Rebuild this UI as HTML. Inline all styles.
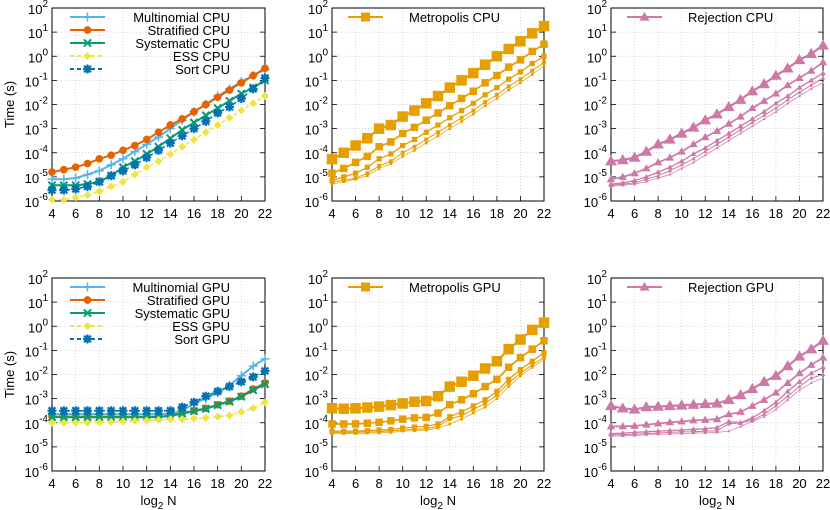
<!DOCTYPE html>
<html><head><meta charset="utf-8"><style>
body{margin:0;background:#fff}
svg{display:block;font-family:"Liberation Sans",sans-serif}
</style></head><body>
<svg id="c" width="830" height="510"></svg>
<script>
const xs=[4,5,6,7,8,9,10,11,12,13,14,15,16,17,18,19,20,21,22];
const xTicks=[4,6,8,10,12,14,16,18,20,22];
const yTicks=[-6,-5,-4,-3,-2,-1,0,1,2];
// log10 values
const multiCPU=[-5.1,-5.1,-5.05,-4.9,-4.75,-4.5,-4.25,-3.95,-3.65,-3.35,-3.0,-2.65,-2.3,-2.0,-1.65,-1.35,-1.05,-0.8,-0.55];
const stratCPU=[-4.8,-4.7,-4.6,-4.45,-4.25,-4.1,-3.9,-3.7,-3.45,-3.15,-2.85,-2.6,-2.3,-2.0,-1.7,-1.4,-1.1,-0.8,-0.5];
const systCPU=[-5.35,-5.35,-5.35,-5.3,-5.2,-4.95,-4.6,-4.35,-4.05,-3.75,-3.4,-3.05,-2.75,-2.45,-2.15,-1.85,-1.55,-1.3,-1.0];
const essCPU=[-5.95,-5.95,-5.85,-5.75,-5.6,-5.4,-5.2,-4.9,-4.6,-4.35,-4.05,-3.75,-3.45,-3.15,-2.85,-2.55,-2.25,-1.95,-1.65];
const sortCPU=[-5.55,-5.55,-5.5,-5.4,-5.2,-4.95,-4.75,-4.5,-4.2,-3.9,-3.6,-3.3,-3.0,-2.7,-2.35,-2.1,-1.75,-1.35,-0.9];
const metroCPU1=[-4.27,-4.0,-3.7,-3.4,-3.0,-2.85,-2.5,-2.25,-1.95,-1.65,-1.3,-1.0,-0.7,-0.35,0,0.3,0.62,0.95,1.25];
const metroCPU2=[-4.85,-4.65,-4.4,-4.15,-3.75,-3.55,-3.2,-2.95,-2.65,-2.35,-2.05,-1.75,-1.45,-1.1,-0.8,-0.45,-0.15,0.2,0.5];
const metroCPU3=[-5.15,-5.0,-4.85,-4.6,-4.25,-4.05,-3.7,-3.45,-3.15,-2.85,-2.55,-2.25,-1.95,-1.6,-1.3,-0.95,-0.65,-0.3,0.0];
const metroCPU4=[-5.2,-5.15,-5.05,-4.85,-4.55,-4.35,-4.0,-3.75,-3.45,-3.15,-2.85,-2.55,-2.25,-1.9,-1.6,-1.25,-0.95,-0.6,-0.25];
const metroCPU5=[-5.3,-5.2,-5.1,-4.95,-4.65,-4.45,-4.15,-3.9,-3.6,-3.3,-3.0,-2.7,-2.4,-2.05,-1.75,-1.4,-1.1,-0.75,-0.4];
const rejCPU1=[-4.35,-4.3,-4.2,-3.95,-3.65,-3.45,-3.2,-2.95,-2.65,-2.4,-2.1,-1.8,-1.45,-1.15,-0.8,-0.5,-0.15,0.1,0.45];
const rejCPU2=[-5.1,-5.0,-4.85,-4.65,-4.4,-4.2,-3.95,-3.65,-3.35,-3.1,-2.8,-2.5,-2.15,-1.85,-1.55,-1.2,-0.9,-0.6,-0.25];
const rejCPU3=[-5.3,-5.25,-5.15,-5.0,-4.8,-4.6,-4.35,-4.05,-3.8,-3.5,-3.2,-2.9,-2.6,-2.3,-1.95,-1.65,-1.3,-1.0,-0.7];
const rejCPU4=[-5.35,-5.3,-5.25,-5.1,-4.95,-4.75,-4.5,-4.25,-3.95,-3.65,-3.35,-3.05,-2.75,-2.45,-2.15,-1.8,-1.5,-1.2,-0.9];
const rejCPU5=[-5.4,-5.35,-5.3,-5.2,-5.05,-4.9,-4.65,-4.4,-4.1,-3.8,-3.5,-3.2,-2.9,-2.6,-2.3,-1.95,-1.65,-1.35,-1.1];
const multiGPU=[-3.65,-3.65,-3.65,-3.65,-3.65,-3.65,-3.65,-3.65,-3.65,-3.65,-3.62,-3.5,-3.2,-3.0,-2.75,-2.45,-2.05,-1.65,-1.35];
const stratGPU=[-3.75,-3.75,-3.75,-3.75,-3.75,-3.75,-3.75,-3.75,-3.75,-3.75,-3.7,-3.6,-3.5,-3.4,-3.25,-3.1,-2.9,-2.6,-2.35];
const systGPU=[-3.77,-3.77,-3.77,-3.77,-3.77,-3.77,-3.77,-3.77,-3.77,-3.76,-3.72,-3.62,-3.52,-3.42,-3.27,-3.12,-2.92,-2.65,-2.4];
const essGPU=[-4.0,-4.0,-4.0,-4.0,-3.98,-3.97,-3.95,-3.92,-3.9,-3.88,-3.85,-3.85,-3.82,-3.8,-3.75,-3.7,-3.55,-3.4,-3.15];
const sortGPU=[-3.5,-3.5,-3.5,-3.5,-3.5,-3.5,-3.5,-3.5,-3.5,-3.5,-3.5,-3.35,-3.15,-2.9,-2.7,-2.5,-2.3,-2.1,-1.85];
const metroGPU1=[-3.4,-3.42,-3.4,-3.37,-3.33,-3.27,-3.2,-3.13,-3.1,-2.9,-2.5,-2.3,-2.05,-1.75,-1.45,-0.95,-0.55,-0.15,0.15];
const metroGPU2=[-4.05,-4.05,-4.05,-4.02,-3.98,-3.92,-3.85,-3.8,-3.78,-3.6,-3.25,-3.05,-2.8,-2.5,-2.2,-1.7,-1.3,-0.95,-0.6];
const metroGPU3=[-4.35,-4.35,-4.35,-4.33,-4.3,-4.28,-4.22,-4.18,-4.15,-4.05,-3.75,-3.55,-3.3,-3.05,-2.7,-2.2,-1.8,-1.45,-1.1];
const metroGPU4=[-4.4,-4.4,-4.4,-4.38,-4.37,-4.33,-4.3,-4.28,-4.25,-4.15,-3.85,-3.7,-3.45,-3.2,-2.85,-2.35,-1.95,-1.6,-1.3];
const metroGPU5=[-4.45,-4.45,-4.45,-4.43,-4.42,-4.4,-4.35,-4.33,-4.3,-4.22,-4.05,-3.85,-3.6,-3.35,-3.0,-2.5,-2.05,-1.7,-1.4];
const rejGPU1=[-3.3,-3.4,-3.45,-3.35,-3.33,-3.3,-3.28,-3.25,-3.22,-3.2,-3.05,-2.85,-2.6,-2.3,-2.05,-1.65,-1.25,-0.95,-0.6];
const rejGPU2=[-4.15,-4.15,-4.13,-4.08,-4.03,-3.98,-3.95,-3.9,-3.88,-3.85,-3.65,-3.55,-3.3,-3.05,-2.75,-2.35,-1.95,-1.6,-1.3];
const rejGPU3=[-4.45,-4.43,-4.4,-4.37,-4.35,-4.32,-4.3,-4.27,-4.25,-4.2,-3.95,-4.0,-3.8,-3.5,-3.15,-2.7,-2.3,-1.95,-1.7];
const rejGPU4=[-4.5,-4.5,-4.48,-4.45,-4.43,-4.4,-4.38,-4.37,-4.35,-4.33,-4.05,-4.0,-3.9,-3.65,-3.3,-2.9,-2.5,-2.15,-2.0];
const rejGPU5=[-4.55,-4.55,-4.53,-4.5,-4.48,-4.47,-4.45,-4.43,-4.42,-4.4,-4.35,-4.15,-3.95,-3.75,-3.45,-3.05,-2.65,-2.35,-2.15];

const NS="http://www.w3.org/2000/svg";
const svg=document.getElementById('c');
function mk(tag,attrs,parent){const e=document.createElementNS(NS,tag);for(const k in attrs)e.setAttribute(k,attrs[k]);(parent||svg).appendChild(e);return e;}
const cols=[[52,265],[332,544],[611,823]];
const rows=[[8,201],[278,471]];
function marker(g,type,x,y,s,c){
  let e;
  if(type==='plus'){e=mk('path',{d:`M${x-s} ${y}H${x+s}M${x} ${y-s}V${y+s}`,stroke:c,'stroke-width':1.5},g);}
  else if(type==='circle'){e=mk('circle',{cx:x,cy:y,r:s*0.85,fill:c},g);}
  else if(type==='x'){e=mk('path',{d:`M${x-s*.8} ${y-s*.8}L${x+s*.8} ${y+s*.8}M${x-s*.8} ${y+s*.8}L${x+s*.8} ${y-s*.8}`,stroke:c,'stroke-width':2},g);}
  else if(type==='diamond'){e=mk('path',{d:`M${x} ${y-s}L${x+s} ${y}L${x} ${y+s}L${x-s} ${y}Z`,fill:c},g);}
  else if(type==='star'){e=mk('path',{d:`M${x-s} ${y}H${x+s}M${x} ${y-s}V${y+s}M${x-s*.75} ${y-s*.75}L${x+s*.75} ${y+s*.75}M${x-s*.75} ${y+s*.75}L${x+s*.75} ${y-s*.75}`,stroke:c,'stroke-width':2.2},g);}
  else if(type==='square'){e=mk('rect',{x:x-s*.75,y:y-s*.75,width:s*1.5,height:s*1.5,fill:c},g);}
  else if(type==='tri'){e=mk('path',{d:`M${x} ${y-s*.85}L${x+s*.85} ${y+s*.6}L${x-s*.85} ${y+s*.6}Z`,fill:c},g);}
  
  
}
function panel(ci,ri,series,legend,name){
  const [x0,x1]=cols[ci],[y0,y1]=rows[ri];
  const X=v=>x0+(v-4)/(22-4)*(x1-x0);
  const Y=v=>y1-(v+6)/8*(y1-y0);
  const g=mk('g',{});
  
  
  xTicks.forEach(t=>{
    mk('line',{x1:X(t),x2:X(t),y1:y0,y2:y1,stroke:'#c8c8c8','stroke-width':0.7,'stroke-dasharray':'1,2'},g);
    const tx=mk('text',{x:X(t),y:y1+17,'font-size':13,'text-anchor':'middle',fill:'#000'},g);tx.textContent=t;
    
    
  });
  yTicks.forEach(t=>{
    mk('line',{x1:x0,x2:x1,y1:Y(t),y2:Y(t),stroke:'#c8c8c8','stroke-width':0.7,'stroke-dasharray':'1,2'},g);
    mk('line',{x1:x0,x2:x0+5,y1:Y(t),y2:Y(t),stroke:'#000','stroke-width':0.8},g);
    mk('line',{x1:x1,x2:x1-5,y1:Y(t),y2:Y(t),stroke:'#000','stroke-width':0.8},g);
    const tx=mk('text',{x:x0-4,y:Y(t)+6,'font-size':13,'text-anchor':'end',fill:'#000'},g);
    
    
    const a=mk('tspan',{},tx);a.textContent='10';
    const b=mk('tspan',{dy:-7,'font-size':10},tx);b.textContent=t;
  });
  xTicks.forEach(t=>{mk('line',{x1:X(t),x2:X(t),y1:y1,y2:y1-5,stroke:'#000','stroke-width':0.8},g);});
  mk('rect',{x:x0,y:y0,width:x1-x0,height:y1-y0,fill:'none',stroke:'#000','stroke-width':1},g);
  series.forEach(s=>{
    const pts=s.data.map((v,i)=>X(xs[i]).toFixed(1)+','+Y(v).toFixed(1)).join(' ');
    const p=mk('polyline',{points:pts,fill:'none',stroke:s.c,'stroke-width':s.w,'stroke-dasharray':s.dash||'none'},g);
    
    
    s.data.forEach((v,i)=>marker(g,s.m,X(xs[i]),Y(v),s.s,s.c));
  });
  legend.forEach((L,i)=>{
    const ly=y0+9+i*13;
    const lx0=ci===0?x0+18:x0+16, lx1=lx0+35;
    mk('line',{x1:lx0,x2:lx1,y1:ly,y2:ly,stroke:L.c,'stroke-width':2,'stroke-dasharray':L.dash||'none'},g);
    marker(g,L.m,(lx0+lx1)/2,ly,L.s,L.c);
    const tx=ci===0?mk('text',{x:x0+178,y:ly+5,'font-size':13,'text-anchor':'end'},g):mk('text',{x:lx1+26,y:ly+5,'font-size':13},g);
    tx.textContent=L.t;
    
    
  });
  if(ci===0){
    const t=mk('text',{x:0,y:0,'font-size':13,'text-anchor':'middle',transform:`translate(14,${(y0+y1)/2}) rotate(-90)`},g);
    t.textContent='Time (s)';
    
    
  }
  if(ri===1){
    const t=mk('text',{x:(x0+x1)/2,y:505,'font-size':13,'text-anchor':'middle'},g);
    
    
    const a=mk('tspan',{},t);a.textContent='log';
    const b=mk('tspan',{dy:4,'font-size':10},t);b.textContent='2';
    const c=mk('tspan',{dy:-4},t);c.textContent=' N';
  }
}
const C={mu:'#56b4e9',st:'#e66100',sy:'#009e73',es:'#f0e442',so:'#0072b2',me:'#e69f00',re:'#cc79a7'};
function five(arrs,c,m,label){
  const sz=[7,5,3.5,2.6,1.8],w=[2.2,1.7,1.3,1,0.7];
  return {series:arrs.map((d,i)=>({data:d,c:c,m:m,s:sz[i],w:w[i]})),legend:[{c:c,m:m,s:6,t:label}]};
}
['CPU','GPU'].forEach((dev,ri)=>{
  const cpu=ri===0;
  const ser=[
    {data:cpu?multiCPU:multiGPU,c:C.mu,m:'plus',s:4.5,w:2,t:'Multinomial '+dev},
    {data:cpu?stratCPU:stratGPU,c:C.st,m:'circle',s:4.5,w:2,t:'Stratified '+dev},
    {data:cpu?systCPU:systGPU,c:C.sy,m:'x',s:4.5,w:2,t:'Systematic '+dev},
    {data:cpu?essCPU:essGPU,c:C.es,m:'diamond',s:4,w:1.5,dash:'4,3',t:'ESS '+dev},
    {data:cpu?sortCPU:sortGPU,c:C.so,m:'star',s:4.5,w:1.5,dash:'4,3',t:'Sort '+dev}];
  panel(0,ri,ser,ser,'resampling-panel-'+dev.toLowerCase());
  const m=five(cpu?[metroCPU1,metroCPU2,metroCPU3,metroCPU4,metroCPU5]:[metroGPU1,metroGPU2,metroGPU3,metroGPU4,metroGPU5],C.me,'square','Metropolis '+dev);
  panel(1,ri,m.series,m.legend,'metropolis-panel-'+dev.toLowerCase());
  const r=five(cpu?[rejCPU1,rejCPU2,rejCPU3,rejCPU4,rejCPU5]:[rejGPU1,rejGPU2,rejGPU3,rejGPU4,rejGPU5],C.re,'tri','Rejection '+dev);
  panel(2,ri,r.series,r.legend,'rejection-panel-'+dev.toLowerCase());
});
</script>
</body></html>
